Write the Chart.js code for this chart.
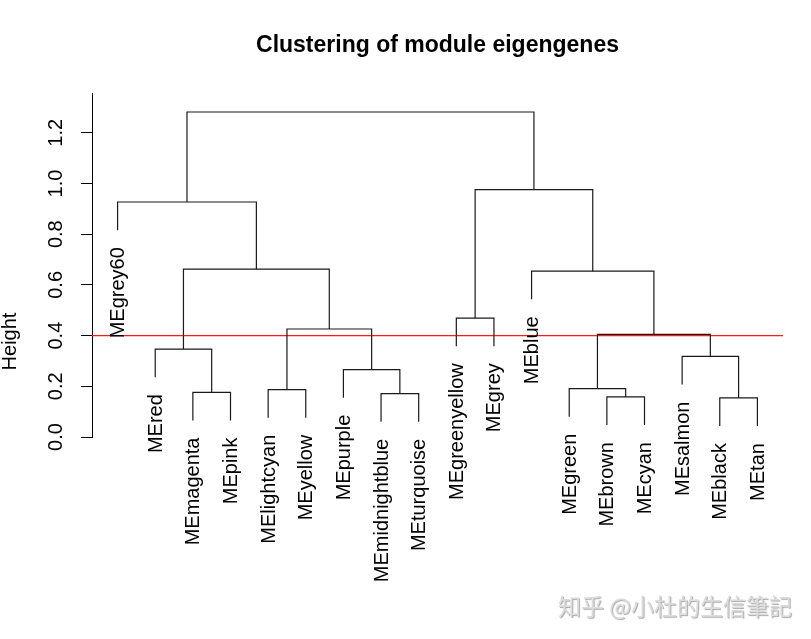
<!DOCTYPE html>
<html>
<head>
<meta charset="utf-8">
<script src="https://cdn.jsdelivr.net/npm/chart.js@4.4.1/dist/chart.umd.min.js"></script>
<style>
  body { margin: 0; background: #fff; }
  #box { width: 811px; height: 639px; }
</style>
</head>
<body>
<div id="box"><canvas id="grafico" width="811" height="639"></canvas></div>
<script>
// leaves in dendrogram order
const leafLabels = ['MEgrey60', 'MEred', 'MEmagenta', 'MEpink', 'MElightcyan', 'MEyellow',
  'MEpurple', 'MEmidnightblue', 'MEturquoise', 'MEgreenyellow', 'MEgrey', 'MEblue',
  'MEgreen', 'MEbrown', 'MEcyan', 'MEsalmon', 'MEblack', 'MEtan'];

// hclust style merges: negative = leaf number, positive = earlier merge row
const mergePairs = [
  [-17, -18], [-14, -15], [-8, -9], [-3, -4], [-5, -6], [-13, 2], [-7, 3], [-16, 1],
  [-2, 4], [6, 8], [5, 7], [-10, -11], [-12, 10], [9, 11], [-1, 14], [12, 13], [15, 16]
];
const mergeHeights = [0.154, 0.158, 0.171, 0.176, 0.187, 0.191, 0.266, 0.318,
  0.347, 0.405, 0.426, 0.469, 0.654, 0.662, 0.927, 0.976, 1.282];

const tickValues = [0, 0.2, 0.4, 0.6, 0.8, 1.0, 1.2];
const hang = 0.111;
const cutHeight = 0.4;

const fonte = '"Liberation Sans", Arial, Helvetica, sans-serif';

// posicoes x das folhas e dos merges
const leafX = leafLabels.map((l, i) => i + 1);
const leafEnd = [];
const mergeX = [];

function childX(c) {
  return c < 0 ? leafX[-c - 1] : mergeX[c - 1];
}

const datasets = [];
mergePairs.forEach((par, i) => {
  const h = mergeHeights[i];
  const pts = [];
  par.forEach((c, k) => {
    const cx = childX(c);
    let ch;
    if (c < 0) {
      ch = h - hang;
      leafEnd[-c - 1] = ch;
    } else {
      ch = mergeHeights[c - 1];
    }
    if (k === 0) {
      pts.push({x: cx, y: ch}, {x: cx, y: h});
    } else {
      pts.push({x: cx, y: h}, {x: cx, y: ch});
    }
  });
  mergeX[i] = (childX(par[0]) + childX(par[1])) / 2;
  datasets.push({
    data: pts,
    showLine: true,
    borderColor: '#1a1a1a',
    borderWidth: 1.2,
    pointRadius: 0,
    tension: 0,
    fill: false
  });
});

const xMin = 0.32, xMax = leafLabels.length + 0.68;

datasets.push({
  data: [{x: xMin, y: cutHeight}, {x: xMax, y: cutHeight}],
  showLine: true,
  borderColor: '#ff1a1a',
  borderWidth: 1.2,
  pointRadius: 0,
  fill: false
});

const textos = {
  id: 'textos',
  afterDraw(chart) {
    const ctx = chart.ctx;
    const x = chart.scales.x;
    const y = chart.scales.y;
    ctx.save();
    ctx.fillStyle = '#000';
    ctx.font = '20px ' + fonte;
    ctx.textBaseline = 'alphabetic';

    leafLabels.forEach((lab, i) => {
      const px = x.getPixelForValue(leafX[i]);
      const py = y.getPixelForValue(leafEnd[i]);
      ctx.save();
      ctx.translate(px + 6.5, py + 17);
      ctx.rotate(-Math.PI / 2);
      ctx.textAlign = 'right';
      ctx.fillText(lab, 0, 0);
      ctx.restore();
    });

    tickValues.forEach(v => {
      const py = y.getPixelForValue(v);
      ctx.save();
      ctx.translate(chart.chartArea.left - 30, py);
      ctx.rotate(-Math.PI / 2);
      ctx.textAlign = 'center';
      ctx.fillText(v.toFixed(1), 0, 0);
      ctx.restore();
    });

    ctx.save();
    ctx.translate(16, (chart.chartArea.top + 590) / 2);
    ctx.rotate(-Math.PI / 2);
    ctx.textAlign = 'center';
    ctx.fillText('Height', 0, 0);
    ctx.restore();

    // marca d'agua
    ctx.font = '23px "Noto Sans CJK SC", sans-serif';
    ctx.textAlign = 'right';
    ctx.textBaseline = 'middle';
    ctx.shadowColor = 'rgba(0,0,0,0.35)';
    ctx.shadowOffsetX = 1;
    ctx.shadowOffsetY = 1;
    ctx.shadowBlur = 1;
    ctx.fillStyle = '#dcdcdc';
    ctx.fillText('知乎 @小杜的生信筆記', 792, 606);
    ctx.restore();
  }
};

const grafico = new Chart(document.getElementById('grafico'), {
  type: 'scatter',
  data: { datasets: datasets },
  options: {
    responsive: false,
    animation: false,
    devicePixelRatio: 1,
    layout: { padding: { left: 0, right: 28, top: 0, bottom: 202 } },
    plugins: {
      legend: { display: false },
      tooltip: { enabled: false },
      title: {
        display: true,
        text: 'Clustering of module eigengenes',
        color: '#000',
        fullSize: false,
        font: { size: 23, weight: 'bold', family: fonte },
        padding: { top: 32, bottom: 33.4 }
      }
    },
    scales: {
      x: { type: 'linear', min: xMin, max: xMax, display: false },
      y: {
        type: 'linear',
        min: 0,
        max: 1.357,
        afterFit(scale) { scale.width = 92; },
        afterBuildTicks(scale) { scale.ticks = tickValues.map(v => ({value: v})); },
        ticks: { display: false },
        grid: { drawOnChartArea: false, drawTicks: true, tickLength: 11, color: '#000', tickColor: '#000' },
        border: { display: true, color: '#000', width: 1 }
      }
    }
  },
  plugins: [textos]
});
</script>
</body>
</html>
